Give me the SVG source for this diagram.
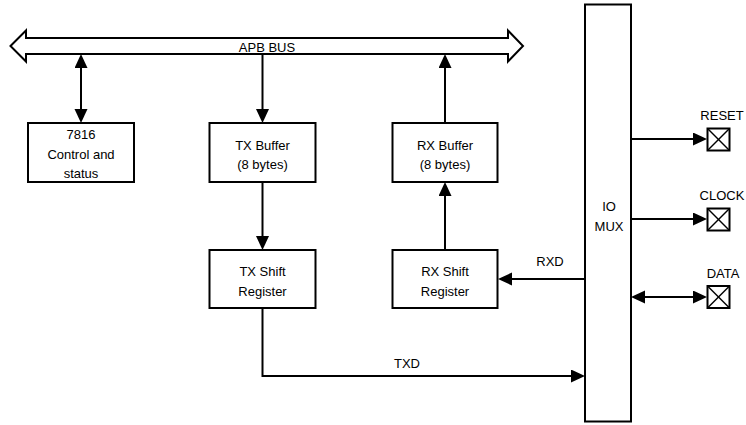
<svg xmlns="http://www.w3.org/2000/svg" width="746" height="425" viewBox="0 0 746 425">
<style>
.box{fill:#fff;stroke:#000;stroke-width:2}
.ln{fill:none;stroke:#000;stroke-width:2}
.t{font-family:"Liberation Sans",Arial,sans-serif;font-size:13px;fill:#000;text-anchor:middle}
.pin{fill:#fff;stroke:#000;stroke-width:2}
.x{stroke:#000;stroke-width:1.5}
</style>
<defs>
<marker id="ah" markerUnits="userSpaceOnUse" markerWidth="15" markerHeight="14" viewBox="0 0 15 14" refX="11" refY="6.5" orient="auto-start-reverse">
<path d="M0,0 L14,6.5 L0,13 z" fill="#000"/>
</marker>
</defs>
<g id="apb-bus">
<polygon class="box" points="10.5,46 26,30.5 26,38 508,38 508,30.5 523,46 508,61.5 508,54 26,54 26,61.5"/>
<text class="t" x="267" y="52">APB BUS</text>
</g>
<g id="ctrl">
<rect class="box" x="28" y="123" width="106" height="59"/>
<text class="t" x="81" y="139">7816</text>
<text class="t" x="81" y="158.5">Control and</text>
<text class="t" x="81" y="178">status</text>
</g>
<g id="txbuf">
<rect class="box" x="209.5" y="123" width="106" height="59"/>
<text class="t" x="262.5" y="150">TX Buffer</text>
<text class="t" x="262.5" y="168.5">(8 bytes)</text>
</g>
<g id="rxbuf">
<rect class="box" x="392.5" y="123" width="105" height="59"/>
<text class="t" x="445" y="150">RX Buffer</text>
<text class="t" x="445" y="168.5">(8 bytes)</text>
</g>
<g id="txshift">
<rect class="box" x="209.5" y="250" width="106" height="58"/>
<text class="t" x="262.5" y="276">TX Shift</text>
<text class="t" x="262.5" y="295.5">Register</text>
</g>
<g id="rxshift">
<rect class="box" x="392.5" y="250" width="105" height="58"/>
<text class="t" x="445" y="276">RX Shift</text>
<text class="t" x="445" y="295.5">Register</text>
</g>
<g id="iomux">
<rect class="box" x="585" y="4.5" width="46" height="417"/>
<text class="t" x="609" y="211">IO</text>
<text class="t" x="609" y="230.5">MUX</text>
</g>
<g id="reset">
<rect class="pin" x="707.5" y="128.5" width="22" height="22"/>
<line class="x" x1="707.5" y1="128.5" x2="729.5" y2="150.5"/>
<line class="x" x1="729.5" y1="128.5" x2="707.5" y2="150.5"/>
<text class="t" x="722" y="120">RESET</text>
</g>
<g id="clock">
<rect class="pin" x="707.5" y="208.5" width="22" height="22"/>
<line class="x" x1="707.5" y1="208.5" x2="729.5" y2="230.5"/>
<line class="x" x1="729.5" y1="208.5" x2="707.5" y2="230.5"/>
<text class="t" x="722" y="199.5">CLOCK</text>
</g>
<g id="data">
<rect class="pin" x="707.5" y="286" width="22" height="22"/>
<line class="x" x1="707.5" y1="286" x2="729.5" y2="308"/>
<line class="x" x1="729.5" y1="286" x2="707.5" y2="308"/>
<text class="t" x="723" y="278">DATA</text>
</g>
<g id="connectors">
<line class="ln" x1="81" y1="57" x2="81" y2="120" marker-start="url(#ah)" marker-end="url(#ah)"/>
<line class="ln" x1="262.5" y1="55" x2="262.5" y2="120" marker-end="url(#ah)"/>
<line class="ln" x1="445" y1="122" x2="445" y2="57" marker-end="url(#ah)"/>
<line class="ln" x1="262.5" y1="183" x2="262.5" y2="247" marker-end="url(#ah)"/>
<line class="ln" x1="445" y1="249" x2="445" y2="185" marker-end="url(#ah)"/>
<line class="ln" x1="584" y1="279" x2="501" y2="279" marker-end="url(#ah)"/>
<path class="ln" d="M262.5,309 V376 H582" marker-end="url(#ah)"/>
<line class="ln" x1="632" y1="139" x2="704" y2="139" marker-end="url(#ah)"/>
<line class="ln" x1="632" y1="219" x2="704" y2="219" marker-end="url(#ah)"/>
<line class="ln" x1="634" y1="297" x2="704" y2="297" marker-start="url(#ah)" marker-end="url(#ah)"/>
<text class="t" x="550" y="266">RXD</text>
<text class="t" x="407" y="368">TXD</text>
</g>
</svg>
